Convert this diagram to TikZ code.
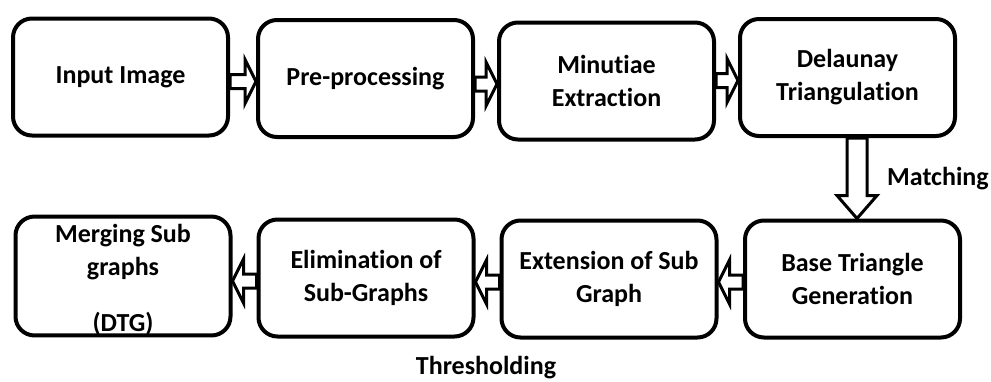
\documentclass[tikz,border=0pt]{standalone}
\usepackage{fontspec}
\setmainfont{Carlito}[Ligatures=NoCommon]
\usetikzlibrary{calc}
\tikzset{
  stepbox/.style={draw=black, line width=4pt, rounded corners=19pt, fill=white,
    minimum width=215pt, minimum height=117pt, inner sep=0pt, align=center,
    font=\fontsize{26pt}{33pt}\selectfont\bfseries},
  blockarr/.style={draw=black, line width=3pt, fill=white, line join=miter},
  lbl/.style={inner sep=0pt, font=\fontsize{26pt}{30pt}\selectfont\bfseries}
}
\newcommand{\blockR}[2]{%
  \draw[blockarr] let \p1=(#1.east), \p2=(#2.west), \n1={\y2-3pt} in
    (\x1,\n1+7pt) -- (\x2-11pt,\n1+7pt) -- (\x2-11pt,\n1+22pt) -- (\x2,\n1)
    -- (\x2-11pt,\n1-22pt) -- (\x2-11pt,\n1-7pt) -- (\x1,\n1-7pt) -- cycle;}
\newcommand{\blockL}[2]{%
  \draw[blockarr] let \p1=(#1.west), \p2=(#2.east), \n1={\y1-3pt} in
    (\x1,\n1+7pt) -- (\x2+11pt,\n1+7pt) -- (\x2+11pt,\n1+22pt) -- (\x2,\n1)
    -- (\x2+11pt,\n1-22pt) -- (\x2+11pt,\n1-7pt) -- (\x1,\n1-7pt) -- cycle;}
\begin{document}
\begin{tikzpicture}[x=1pt,y=-1pt]
\useasboundingbox (0,0) rectangle (991,381);
\fill[white] (0,0) rectangle (991,381);
% top row
\node[stepbox] (b1) at (120.5,77) {Input Image};
\node[stepbox] (b2) at (365.5,78.5) {Pre-processing};
\node[stepbox] (b3) at (606.5,81) {Minutiae\\Extraction};
\node[stepbox] (b4) at (847.5,77.5) {Delaunay\\Triangulation};
% bottom row
\node[stepbox] (b5) at (123,276) {\rule{0pt}{26pt}Merging Sub\\graphs\\[23pt](DTG)};
\node[stepbox] (b6) at (366,278) {Elimination of\\Sub-Graphs};
\node[stepbox] (b7) at (609,279) {Extension of Sub\\Graph};
\node[stepbox] (b8) at (852.5,279) {Base Triangle\\Generation};
% arrows
\blockR{b1}{b2}
\blockR{b2}{b3}
\blockR{b3}{b4}
\blockL{b8}{b7}
\blockL{b7}{b6}
\blockL{b6}{b5}
\draw[blockarr] let \p1=($(b4.south)+(9.5,0)$), \p3=(b8.north) in
  (\x1-10pt,\y1) -- (\x1-10pt,\y3+23pt) -- (\x1-20pt,\y3+23pt) -- (\x1,\y3)
  -- (\x1+20pt,\y3+23pt) -- (\x1+10pt,\y3+23pt) -- (\x1+10pt,\y1) -- cycle;
% labels
\node[lbl, anchor=west] (match) at (887,179) {Matching};
\node[lbl, anchor=base] (thresh) at (486,374) {Thresholding};
\end{tikzpicture}
\end{document}
